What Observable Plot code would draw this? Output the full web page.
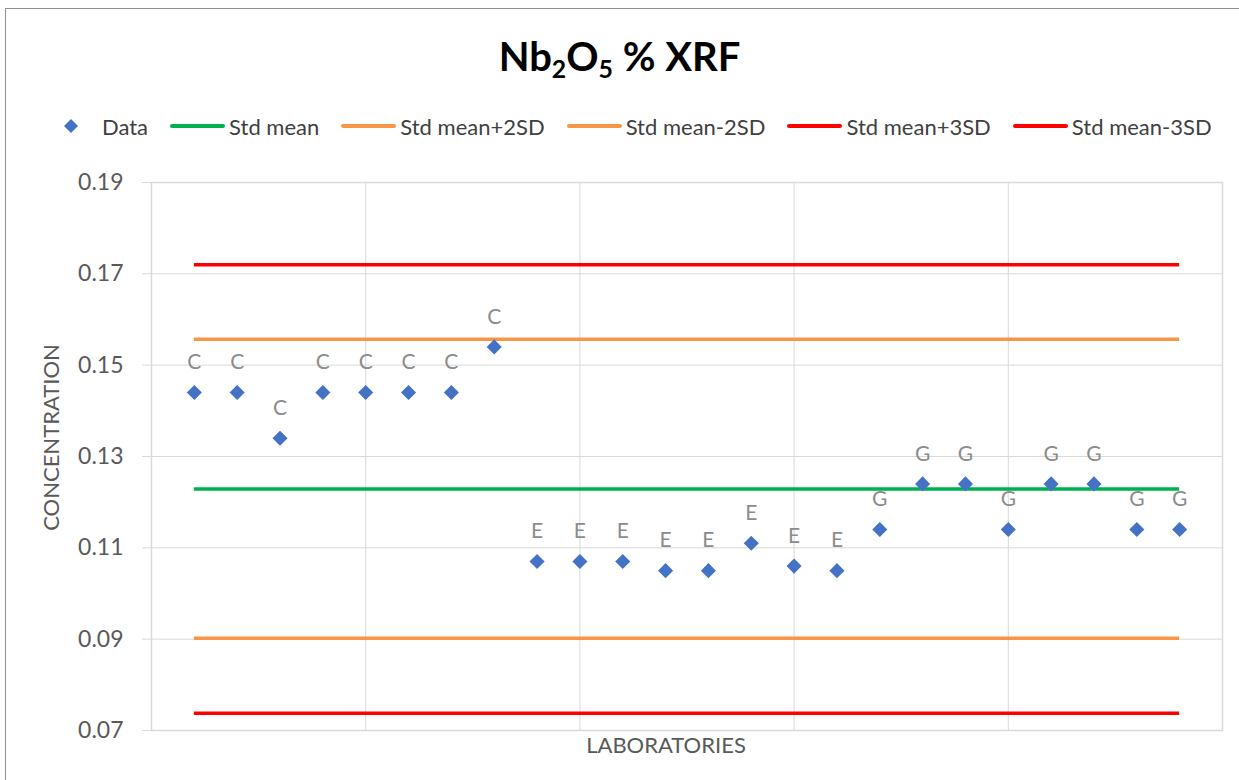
<!DOCTYPE html>
<html>
<head>
<meta charset="utf-8">
<script src="https://cdn.jsdelivr.net/npm/d3@7"></script>
<script src="https://cdn.jsdelivr.net/npm/@observablehq/plot@0.6"></script>
<style>
  html, body { margin: 0; padding: 0; background: #fff; overflow: hidden; }
  #page { position: relative; width: 1239px; height: 780px; font-family: Lato, "Open Sans", sans-serif; }
  #border { position: absolute; left: 5px; top: 8px; width: 1300px; height: 900px; border-left: 1.5px solid #8f8f8f; border-top: 1.5px solid #8f8f8f; box-sizing: border-box; }
  #title { position: absolute; left: 0; top: 32px; width: 1239px; height: 48px; line-height: 48px; text-align: center; font-weight: bold; font-size: 40px; color: #000; }
  #title sub { font-size: 0.62em; vertical-align: -0.28em; line-height: 0; }
  #legend { position: absolute; left: 43px; top: 113px; height: 26px; display: flex; align-items: center; font-size: 22px; color: #404040; white-space: nowrap; }
  .item { display: flex; align-items: center; margin-right: 22px; }
  .sw { width: 55px; height: 26px; display: flex; align-items: center; justify-content: center; margin-right: 4px; }
  .ln { width: 55px; height: 3.5px; border-radius: 2px; }
  #chart { position: absolute; left: 0; top: 160px; }
</style>
</head>
<body>
<div id="page">
  <div id="border"></div>
  <div id="title">Nb<sub>2</sub>O<sub>5</sub> % XRF</div>
  <div id="legend"></div>
  <div id="chart"></div>
</div>
<script>
// ---- data ----
const labs = d3.range(1, 25);
const values = [0.144, 0.144, 0.134, 0.144, 0.144, 0.144, 0.144, 0.154,
                0.107, 0.107, 0.107, 0.105, 0.105, 0.111, 0.106, 0.105,
                0.114, 0.124, 0.124, 0.114, 0.124, 0.124, 0.114, 0.114];
const labels = ["C","C","C","C","C","C","C","C",
                "E","E","E","E","E","E","E","E",
                "G","G","G","G","G","G","G","G"];
const statNames = ["Std mean", "Std mean+2SD", "Std mean-2SD", "Std mean+3SD", "Std mean-3SD"];
const statValues = [0.1229, 0.1557, 0.0902, 0.1720, 0.0738];
const statColors = ["#00b050", "#f79646", "#f79646", "#ff0000", "#ff0000"];
const yTicks = [0.07, 0.09, 0.11, 0.13, 0.15, 0.17, 0.19];
const xGrid = [5, 10, 15, 20];
const dataName = "Data";
const dataColor = "#4472c4";
const xLabel = "LABORATORIES";
const yLabel = "CONCENTRATION";

const points = labs.map((lab, i) => ({lab, value: values[i], label: labels[i]}));
const stats = statNames.map((name, i) => ({name, value: statValues[i], color: statColors[i]}));

// ---- legend ----
const legend = document.getElementById("legend");
{
  const it = document.createElement("div"); it.className = "item";
  it.innerHTML = `<div class="sw"><svg width="16" height="16" viewBox="-8 -8 16 16"><path d="M0,-7L7,0L0,7L-7,0Z" fill="${dataColor}"/></svg></div><span>${dataName}</span>`;
  legend.appendChild(it);
}
stats.forEach(s => {
  const it = document.createElement("div"); it.className = "item";
  it.innerHTML = `<div class="sw"><div class="ln" style="background:${s.color}"></div></div><span>${s.name}</span>`;
  legend.appendChild(it);
});

// ---- chart ----
const chart = Plot.plot({
  width: 1239,
  height: 620,
  marginTop: 22,
  marginBottom: 50,
  marginLeft: 151,
  marginRight: 17,
  style: {fontFamily: "Lato, 'Open Sans', sans-serif", background: "transparent"},
  x: {domain: [0, 25], axis: null},
  y: {domain: [0.07, 0.19], axis: null},
  marks: [
    Plot.gridY(yTicks, {stroke: "#d9d9d9", strokeOpacity: 1, strokeWidth: 1}),
    Plot.gridX(xGrid, {stroke: "#d9d9d9", strokeOpacity: 1, strokeWidth: 1}),
    Plot.frame({stroke: "#d9d9d9", strokeWidth: 1.5}),
    Plot.axisY(yTicks, {tickSize: 9, tickPadding: 19, stroke: "#d9d9d9", color: "#595959", fontSize: 23, tickFormat: d3.format(".2f"), label: null}),
    Plot.ruleY(stats, {y: "value", x1: labs[0], x2: labs[labs.length - 1], stroke: "color", strokeWidth: 3.5}),
    Plot.dot(points, {x: "lab", y: "value", symbol: "diamond2", r: 6.8, fill: dataColor, stroke: "none"}),
    Plot.text(points, {x: "lab", y: "value", text: "label", dy: -30, fill: "#8c8c8c", fontSize: 21}),
    Plot.text([xLabel], {frameAnchor: "bottom", dy: 22, dx: -21, fill: "#595959", fontSize: 22}),
    Plot.text([yLabel], {frameAnchor: "left", textAnchor: "middle", dx: -100, dy: -19, rotate: -90, fill: "#595959", fontSize: 22})
  ]
});
document.getElementById("chart").appendChild(chart);
</script>
</body>
</html>
